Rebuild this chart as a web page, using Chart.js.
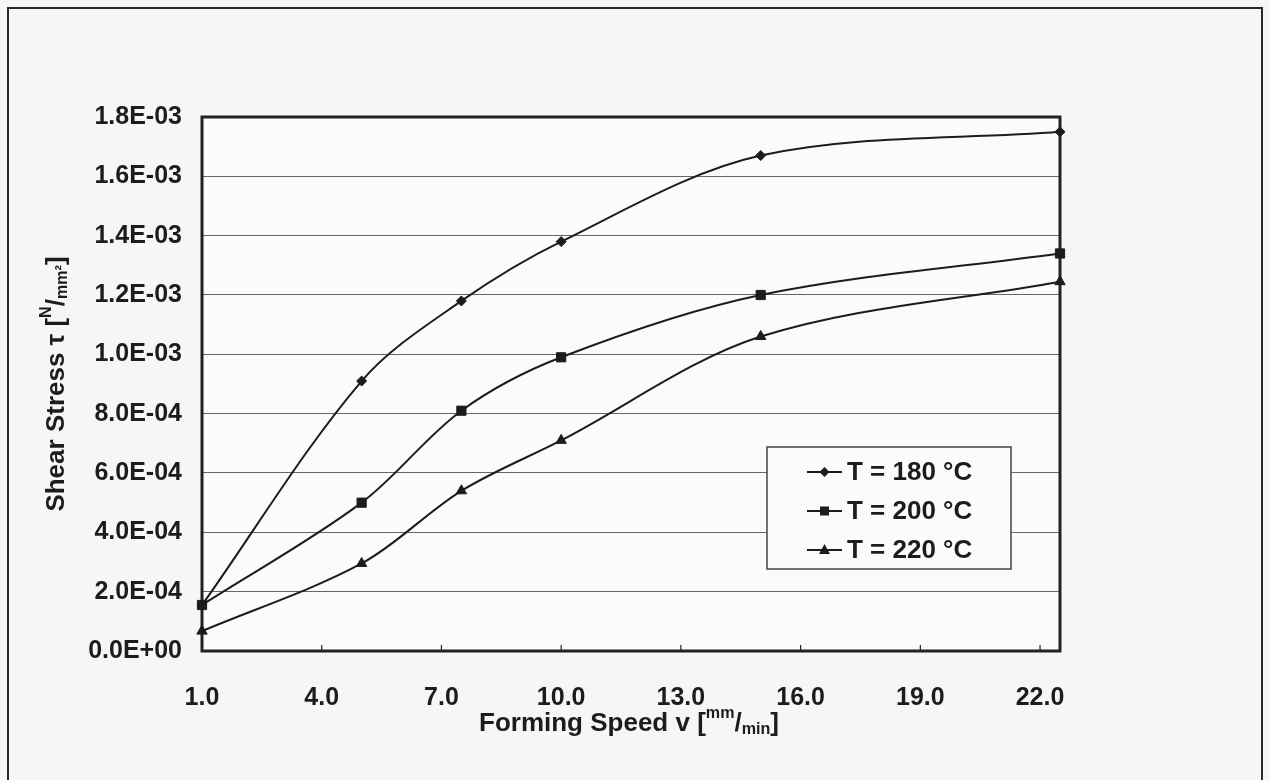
<!DOCTYPE html>
<html>
<head>
<meta charset="utf-8">
<script src="https://cdn.jsdelivr.net/npm/chart.js@4.4.1/dist/chart.umd.min.js"></script>
<style>
  html, body { margin: 0; padding: 0; background: #f6f6f6; }
  #wrap { width: 1270px; height: 780px; position: relative; }
</style>
</head>
<body>
<div id="wrap"><canvas id="shear" width="1270" height="780"></canvas></div>
<script>
// values
const speeds = [1, 5, 7.5, 10, 15, 22.5];
const stress180 = [1.55e-4, 9.1e-4, 1.18e-3, 1.38e-3, 1.67e-3, 1.75e-3];
const stress200 = [1.55e-4, 5.0e-4, 8.1e-4, 0.99e-3, 1.20e-3, 1.34e-3];
const stress220 = [0.67e-4, 2.95e-4, 5.4e-4, 7.1e-4, 1.06e-3, 1.245e-3];
const seriesLabels = ['T = 180 °C', 'T = 200 °C', 'T = 220 °C'];
const markerStyles = ['rectRot', 'rect', 'triangle'];
const xTickValues = [1, 4, 7, 10, 13, 16, 19, 22];
const yTickValues = [0, 2e-4, 4e-4, 6e-4, 8e-4, 1.0e-3, 1.2e-3, 1.4e-3, 1.6e-3, 1.8e-3];

const FONT = "'Liberation Sans', Arial, sans-serif";
const INK = '#1c1c1c';

function sci(v) {
  if (v === 0) return '0.0E+00';
  let e = Math.floor(Math.log10(Math.abs(v)) + 1e-9);
  let m = v / Math.pow(10, e);
  let sign = e < 0 ? '-' : '+';
  return m.toFixed(1) + 'E' + sign + String(Math.abs(e)).padStart(2, '0');
}

function pts(ys) {
  return speeds.map((x, i) => ({ x: x, y: ys[i] }));
}

const markerRadius = { rectRot: 5, rect: 6.5, triangle: 6 };

function series(label, ys, style) {
  return {
    label: label,
    data: pts(ys),
    showLine: true,
    tension: 0.33,
    borderColor: INK,
    borderWidth: 2,
    backgroundColor: INK,
    pointStyle: style,
    pointRadius: markerRadius[style],
    pointBorderWidth: 1,
    pointBorderColor: INK,
    pointBackgroundColor: INK,
    clip: false
  };
}

// draw text pieces: normal, superscript, subscript
function drawRich(ctx, parts, size) {
  let total = 0;
  parts.forEach(p => {
    ctx.font = 'bold ' + (p.s ? size * 0.62 : size) + 'px ' + FONT;
    p.w = ctx.measureText(p.t).width;
    total += p.w;
  });
  let x = -total / 2;
  parts.forEach(p => {
    ctx.font = 'bold ' + (p.s ? size * 0.62 : size) + 'px ' + FONT;
    let dy = 0;
    if (p.s === 'sup') dy = -size * 0.42;
    if (p.s === 'sub') dy = size * 0.22;
    ctx.fillText(p.t, x, dy);
    x += p.w;
  });
}

const decor = {
  id: 'decor',
  beforeDraw(chart) {
    const ctx = chart.ctx;
    const a = chart.chartArea;
    ctx.save();
    ctx.fillStyle = '#f6f6f6';
    ctx.fillRect(0, 0, chart.width, chart.height);
    ctx.strokeStyle = '#2a2a2a';
    ctx.lineWidth = 2;
    ctx.strokeRect(8, 8, 1254, 790);
    ctx.fillStyle = '#fbfbfb';
    ctx.fillRect(a.left, a.top, a.right - a.left, a.bottom - a.top);
    ctx.restore();
  },
  beforeDatasetsDraw(chart) {
    const ctx = chart.ctx;
    const a = chart.chartArea;
    const xs = chart.scales.x;
    ctx.save();
    ctx.strokeStyle = '#222';
    ctx.lineWidth = 3;
    ctx.strokeRect(a.left, a.top, a.right - a.left, a.bottom - a.top);
    ctx.lineWidth = 1.2;
    xTickValues.forEach(v => {
      const px = xs.getPixelForValue(v);
      ctx.beginPath();
      ctx.moveTo(px, a.bottom);
      ctx.lineTo(px, a.bottom - 6);
      ctx.stroke();
    });
    ctx.restore();
  },
  afterDraw(chart) {
    const ctx = chart.ctx;
    const a = chart.chartArea;
    ctx.save();
    ctx.fillStyle = INK;
    ctx.textBaseline = 'middle';
    ctx.textAlign = 'left';
    // y title
    ctx.save();
    ctx.translate(57, (a.top + a.bottom) / 2);
    ctx.rotate(-Math.PI / 2);
    drawRich(ctx, [
      { t: 'Shear Stress τ [' }, { t: 'N', s: 'sup' }, { t: '/' }, { t: 'mm²', s: 'sub' }, { t: ']' }
    ], 26);
    ctx.restore();
    // x title
    ctx.save();
    ctx.translate(629, 724);
    drawRich(ctx, [
      { t: 'Forming Speed v [' }, { t: 'mm', s: 'sup' }, { t: '/' }, { t: 'min', s: 'sub' }, { t: ']' }
    ], 26);
    ctx.restore();

    // legend
    const bx = 767, by = 447, bw = 244, bh = 122;
    ctx.fillStyle = '#fbfbfb';
    ctx.fillRect(bx, by, bw, bh);
    ctx.strokeStyle = '#444';
    ctx.lineWidth = 1.5;
    ctx.strokeRect(bx, by, bw, bh);
    seriesLabels.forEach((lab, i) => {
      const y = by + 25 + i * 39;
      ctx.strokeStyle = INK;
      ctx.fillStyle = INK;
      ctx.lineWidth = 2;
      ctx.beginPath();
      ctx.moveTo(807, y);
      ctx.lineTo(842, y);
      ctx.stroke();
      const cx = 824.5, st = markerStyles[i];
      ctx.beginPath();
      if (st === 'rectRot') {
        ctx.moveTo(cx, y - 5); ctx.lineTo(cx + 5, y); ctx.lineTo(cx, y + 5); ctx.lineTo(cx - 5, y);
      } else if (st === 'rect') {
        ctx.rect(cx - 4.5, y - 4.5, 9, 9);
      } else {
        ctx.moveTo(cx, y - 6); ctx.lineTo(cx + 5.5, y + 4); ctx.lineTo(cx - 5.5, y + 4);
      }
      ctx.closePath();
      ctx.fill();
      ctx.font = 'bold 26px ' + FONT;
      ctx.fillText(lab, 847, y + 1);
    });
    ctx.restore();
  }
};

new Chart(document.getElementById('shear'), {
  type: 'scatter',
  data: {
    datasets: [
      series(seriesLabels[0], stress180, markerStyles[0]),
      series(seriesLabels[1], stress200, markerStyles[1]),
      series(seriesLabels[2], stress220, markerStyles[2])
    ]
  },
  options: {
    responsive: false,
    animation: false,
    layout: { padding: { top: 117, right: 210, bottom: 0, left: 0 } },
    plugins: {
      legend: { display: false },
      tooltip: { enabled: false }
    },
    scales: {
      x: {
        type: 'linear',
        min: 1,
        max: 22.5,
        afterBuildTicks: s => { s.ticks = xTickValues.map(v => ({ value: v })); },
        afterFit: s => { s.height = 780 - 651; },
        grid: { display: false },
        border: { display: false },
        ticks: {
          color: INK,
          font: { family: FONT, size: 25, weight: 'bold' },
          padding: 24,
          maxRotation: 0,
          callback: v => v.toFixed(1)
        }
      },
      y: {
        min: 0,
        max: 1.8e-3,
        afterBuildTicks: s => { s.ticks = yTickValues.map(v => ({ value: v })); },
        afterFit: s => { s.width = 202; },
        grid: { color: '#666', lineWidth: 1.1, drawTicks: false },
        border: { display: false },
        ticks: {
          color: INK,
          font: { family: FONT, size: 25, weight: 'bold' },
          padding: 20,
          callback: v => sci(v)
        }
      }
    }
  },
  plugins: [decor]
});
</script>
</body>
</html>
